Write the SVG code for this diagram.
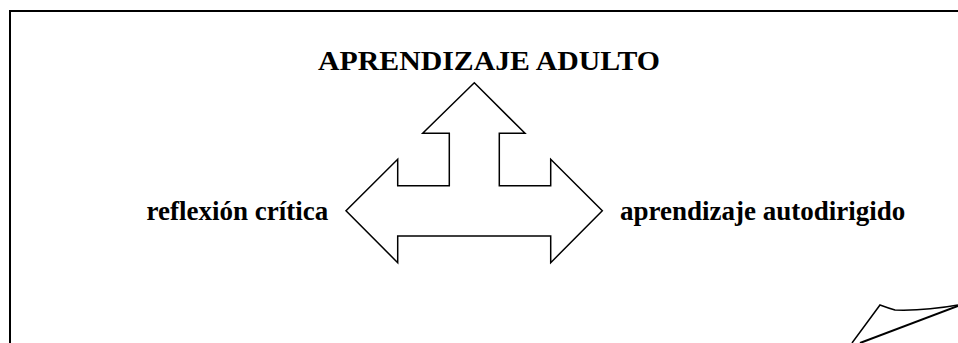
<svg xmlns="http://www.w3.org/2000/svg" width="958" height="343" viewBox="0 0 958 343">
<style>
.t{font-family:"Liberation Serif","Times New Roman",serif;font-weight:bold;fill:#000;font-size:27px}
.shape{fill:#fff;stroke:#000;stroke-width:1.5;stroke-linejoin:miter}
</style>
<rect x="0" y="0" width="958" height="343" fill="#fff"/>
<g id="frame">
<polyline points="10,343 10,11 958,11" fill="none" stroke="#000" stroke-width="2"/>
</g>
<g id="arrows">
<polygon class="shape" points="474.3,82.7 525,133.3 499.3,133.3 499.3,185.7 550.7,185.7 550.7,159.3 602.3,210.7 550.7,262.7 550.7,236 397.7,236 397.7,262.7 346,210.7 397.7,159.3 397.7,185.7 449.3,185.7 449.3,133.3 422.7,133.3"/>
</g>
<g id="node-title"><text class="t" x="318" y="69.5" textLength="342" lengthAdjust="spacingAndGlyphs">APRENDIZAJE ADULTO</text></g>
<g id="node-left"><text class="t" x="146.5" y="220">reflexión crítica</text></g>
<g id="node-right"><text class="t" x="620" y="220">aprendizaje autodirigido</text></g>
<g id="curl">
<path d="M852,343 L880,305 Q888,308 895,310 Q925,311 958,305" fill="none" stroke="#000" stroke-width="1.5"/>
<line x1="860" y1="343" x2="958" y2="306" stroke="#000" stroke-width="2"/>
</g>
</svg>
